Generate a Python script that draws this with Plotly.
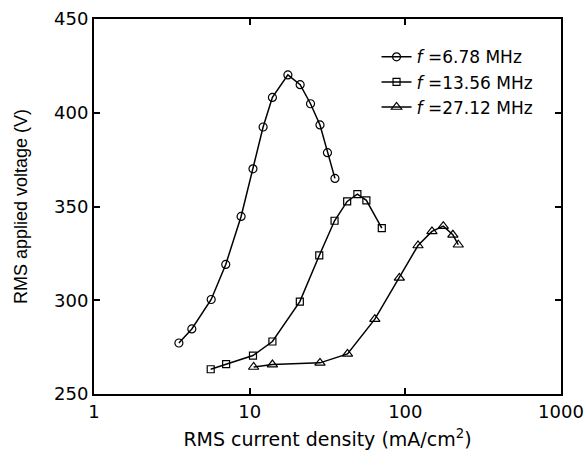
import plotly.graph_objects as go

# --- data ---
x_678 = [3.51, 4.25, 5.66, 7.02, 8.81, 10.5, 12.2, 14.0, 17.6, 21.1, 24.6, 28.3, 31.6, 35.3]
y_678 = [277.2, 284.7, 300.4, 319.1, 344.7, 370.1, 392.4, 408.2, 420.2, 415.0, 404.8, 393.5, 378.7, 365.0]

x_1356 = [5.62, 7.06, 10.5, 14.0, 21.0, 28.0, 35.1, 42.3, 49.2, 56.2, 70.6]
y_1356 = [263.2, 265.9, 270.5, 278.0, 299.3, 323.9, 342.4, 352.7, 356.6, 353.3, 338.5]

x_2712 = [10.6, 14.0, 28.3, 42.5, 63.7, 91.5, 120.6, 148.3, 175.3, 202.0, 218.8]
y_2712 = [264.4, 265.7, 266.6, 271.4, 289.9, 311.9, 329.2, 336.7, 339.5, 334.9, 329.6]

names = ["<i>f</i> =6.78 MHz", "<i>f</i> =13.56 MHz", "<i>f</i> =27.12 MHz"]
x_ticks = [1, 10, 100, 1000]
y_ticks = [250, 300, 350, 400, 450]
x_minor = [m * 10 ** k for k in range(3) for m in range(2, 10)]
y_minor = [275, 325, 375, 425]

WIDE = "DejaVu Sans, sans-serif"
ARIAL = "Liberation Sans, Arial, sans-serif"
NOGRID = "rgba(0,0,0,0)"

fig = go.Figure()
series = [(x_678, y_678, "circle-open", 8),
          (x_1356, y_1356, "square-open", 7),
          (x_2712, y_2712, "triangle-up-open", 9)]
for (xs, ys, sym, sz), nm in zip(series, names):
    fig.add_trace(go.Scatter(
        x=xs, y=ys, name=nm, mode="lines+markers",
        line=dict(color="black", width=1.5),
        marker=dict(symbol=sym, size=sz, color="black", line=dict(width=1.2, color="black")),
    ))

fig.update_xaxes(
    type="log", range=[0, 3], tickvals=x_ticks, ticktext=[str(v) for v in x_ticks],
    ticks="inside", ticklen=6, tickwidth=2, tickcolor="black",
    showline=True, linecolor="black", linewidth=2, mirror="ticks", gridcolor=NOGRID,
    tickfont=dict(family=WIDE, size=18, color="black"),
    title=dict(text="RMS current density (mA/cm<sup>2</sup>)",
               font=dict(family=WIDE, size=19, color="black"), standoff=12),
)
fig.update_yaxes(
    range=[250, 450], tickvals=y_ticks,
    ticks="inside", ticklen=6, tickwidth=2, tickcolor="black",
    showline=True, linecolor="black", linewidth=2, mirror="ticks", gridcolor=NOGRID,
    tickfont=dict(family=WIDE, size=18, color="black"),
    title=dict(text="RMS applied voltage (V)",
               font=dict(family=ARIAL, size=18, color="black"), standoff=22),
)

# minor ticks via overlaid, label-free axes
fig.update_layout(
    xaxis2=dict(type="log", range=[0, 3], tickvals=x_minor, overlaying="x", anchor="y",
                side="bottom", ticks="inside", ticklen=4, tickwidth=1.5, tickcolor="black",
                showline=False, mirror="ticks", gridcolor=NOGRID, showticklabels=False),
    yaxis2=dict(range=[250, 450], tickvals=y_minor, overlaying="y", anchor="x",
                side="left", ticks="inside", ticklen=4, tickwidth=1.5, tickcolor="black",
                showline=False, mirror="ticks", gridcolor=NOGRID, showticklabels=False),
)

fig.update_layout(
    template="none",
    width=586, height=466,
    margin=dict(l=94, r=25, t=19, b=72, autoexpand=False),
    font=dict(family=WIDE, size=17, color="black"),
    legend=dict(x=0.605, y=0.946, xanchor="left", yanchor="top",
                bgcolor="rgba(0,0,0,0)", borderwidth=0,
                font=dict(family=WIDE, size=17, color="black"),
                tracegroupgap=0, itemwidth=30),
    showlegend=True,
)

fig.write_html("out.html", config={"displayModeBar": False},
               post_script="document.body.style.margin='0';")
